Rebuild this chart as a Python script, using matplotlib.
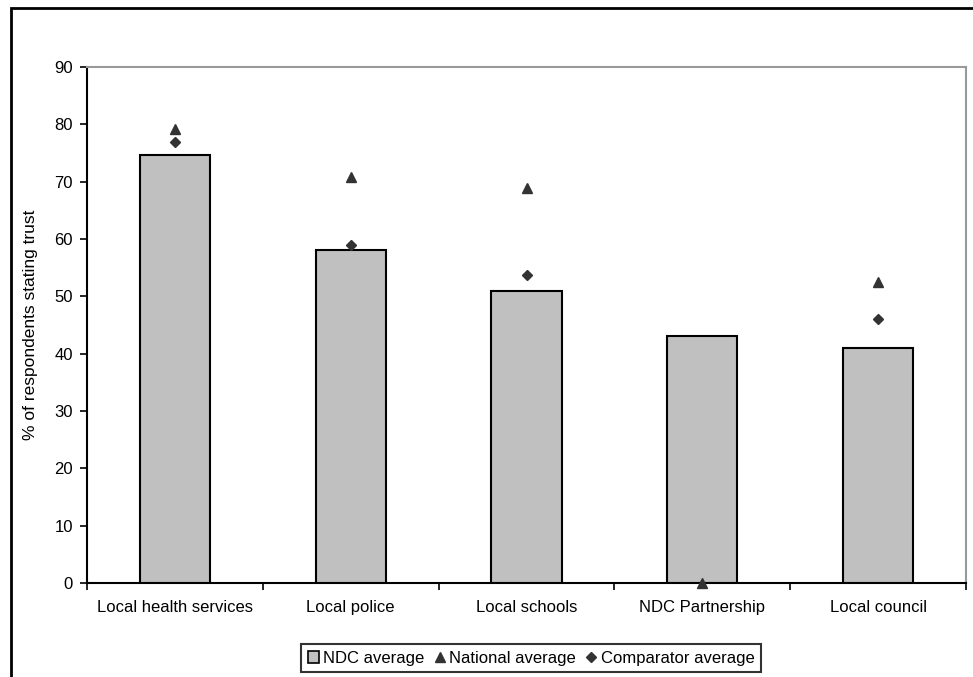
import numpy as np
import matplotlib
matplotlib.use("Agg")
import matplotlib.pyplot as plt
from matplotlib.patches import Rectangle, Patch
from matplotlib.lines import Line2D

plt.rcParams['font.family'] = ['Liberation Sans', 'DejaVu Sans']

# === Data ===
categories = ["Local health services", "Local police", "Local schools",
              "NDC Partnership", "Local council"]
ndc_avg = [74.7, 58, 51, 43, 41]
national_avg = [79.2, 70.9, 68.9, 0, 52.5]
comparator_avg = [77, 59, 53.8, np.nan, 46]

fig = plt.figure(figsize=(9.73, 6.77), dpi=100)
ax = fig.add_axes([87/973, 1 - 583/677, (966 - 87)/973, (583 - 67)/677])

x = np.arange(len(categories))
ax.bar(x, ndc_avg, width=0.4, color="#c0c0c0", edgecolor="black", linewidth=1.5,
       zorder=2, label="NDC average")
ax.plot(x, national_avg, linestyle="none", marker="^", markersize=7,
        color="#333333", zorder=3, clip_on=False, label="National average")
ax.plot(x, comparator_avg, linestyle="none", marker="D", markersize=5.5,
        color="#333333", zorder=3, label="Comparator average")

ax.set_xlim(-0.5, len(categories) - 0.5)
ax.set_ylim(0, 90)
ax.set_yticks(np.arange(0, 91, 10))
ax.set_xticks(x)
ax.set_xticklabels(categories)
ax.set_xticks(np.arange(-0.5, len(categories)), minor=True)
ax.tick_params(axis="x", which="major", length=0, pad=12, labelsize=12)
ax.tick_params(axis="x", which="minor", length=5, width=1.2, direction="out")
ax.tick_params(axis="y", length=5, width=1.2, labelsize=12, pad=5)
ax.set_ylabel("% of respondents stating trust", fontsize=12.5, labelpad=12)

for side in ["left", "bottom"]:
    ax.spines[side].set_color("black")
    ax.spines[side].set_linewidth(1.5)
for side in ["top", "right"]:
    ax.spines[side].set_color("#999999")
    ax.spines[side].set_linewidth(1.5)

handles = [
    Patch(facecolor="#c0c0c0", edgecolor="black", linewidth=1.2),
    Line2D([], [], linestyle="none", marker="^", markersize=6.5, color="#333333"),
    Line2D([], [], linestyle="none", marker="D", markersize=5, color="#333333"),
]
leg = fig.legend(handles, ["NDC average", "National average", "Comparator average"],
                 loc="center", bbox_to_anchor=(531/973, 1 - 658/677), ncol=3,
                 fontsize=12, frameon=True, fancybox=False, handlelength=0.7,
                 handletextpad=0.2, columnspacing=0.6, borderpad=0.4,
                 handleheight=0.7)
leg.get_frame().set_edgecolor("black")
leg.get_frame().set_linewidth(1.5)

# outer chart frame
fig.add_artist(Rectangle((11/973, -0.1), 1.2, 1.1 - 8/677,
                         transform=fig.transFigure, fill=False,
                         edgecolor="black", linewidth=2))

fig.savefig("out.png", dpi=100)
